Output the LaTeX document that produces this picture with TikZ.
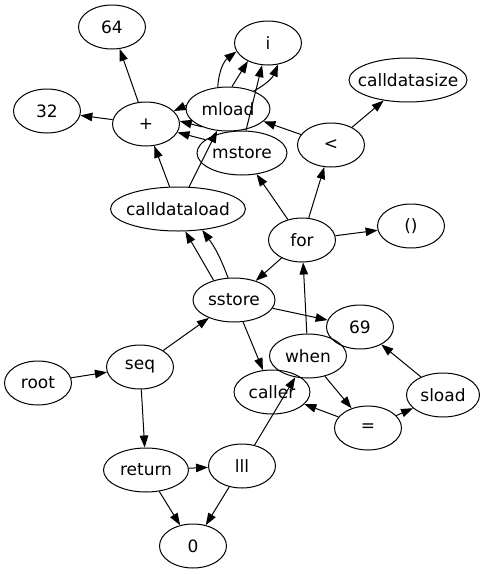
\documentclass[tikz,border=0pt]{standalone}
\usepackage{fontspec}
\setmainfont{DejaVu Sans}
\usetikzlibrary{shapes.geometric, arrows.meta}

\begin{document}
\begin{tikzpicture}[x=1pt, y=-1pt,
        nd/.style={draw, ellipse, line width=1pt, minimum width=67pt, minimum height=44pt,
            inner ysep=0pt, inner xsep=-25pt, font=\fontsize{17}{17}\selectfont},
        ar/.style={line width=1pt, -{Triangle[length=12pt, width=8.5pt]}}]
        \useasboundingbox (0,0) rectangle (486,574);

        % Knoten oben
        \node[nd] (n64) at (112,27) {64};
        \node[nd] (i) at (268,43) {i};
        \node[nd, minimum width=118pt] (csize) at (408,80) {calldatasize};
        \node[nd] (n32) at (47,111) {32};
        \node[nd] (plus) at (146,124) {+};
        \node[nd, minimum width=84pt] (mload) at (228,109) {mload};
        \node[nd, minimum width=90pt] (mstore) at (242,153) {mstore};
        \node[nd] (lt) at (331,145) {<};
        \node[nd, minimum width=135pt] (cload) at (178,209) {calldataload};

        % Knoten mitte
        \node[nd] (for) at (302,240) {for};
        \node[nd] (unit) at (411,226) {()};
        \node[nd, minimum width=82pt] (sstore) at (234,300) {sstore};
        \node[nd] (n69) at (360,327) {69};
        \node[nd] (root) at (38,383) {root};
        \node[nd] (seq) at (140,367) {seq};
        \node[nd, minimum width=77pt] (when) at (308,356) {when};
        \node[nd, minimum width=76pt] (caller) at (272,392) {caller};
        \node[nd, minimum width=73pt] (sload) at (443,395) {sload};
        \node[nd] (eq) at (368,428) {=};

        % Knoten unten
        \node[nd, minimum width=85pt] (ret) at (146,470) {return};
        \node[nd] (lll) at (242,466) {lll};
        \node[nd] (n0) at (193,546) {0};

        % Kanten oben
        \draw[ar] (plus) -- (n64);
        \draw[ar] (plus) -- (n32);
        \draw[ar] (mload.175) -- (plus.25);
        \draw[ar] (mload.215) -- (plus.5);
        \draw[ar] (mstore.160) -- (plus.345);
        \draw[ar] (mload.115) to[bend left=25] (i.195);
        \draw[ar] (mload.80) -- (i.222);
        \draw[ar] (mload.35) to[bend right=20] (i.295);
        \draw[ar] (mstore.80) -- (i.255);
        \draw[ar] (cload) -- (plus);
        \draw[ar] (cload) -- (mload);
        \draw[ar] (lt) -- (mload);
        \draw[ar] (lt) -- (csize);

        % Kanten mitte
        \draw[ar] (for) -- (mstore);
        \draw[ar] (for) -- (lt);
        \draw[ar] (for) -- (unit);
        \draw[ar] (for) -- (sstore);
        \draw[ar] (sstore.136) -- (cload.288);
        \draw[ar] (sstore.105) to[bend right=8] (cload.319);
        \draw[ar] (sstore) -- (n69);
        \draw[ar] (sstore) -- (caller);
        \draw[ar] (root) -- (seq);
        \draw[ar] (seq) -- (sstore);
        \draw[ar] (when) -- (for);
        \draw[ar] (when) -- (eq);
        \draw[ar] (eq) -- (caller);
        \draw[ar] (eq) -- (sload);
        \draw[ar] (sload) -- (n69);

        % Kanten unten
        \draw[ar] (seq) -- (ret);
        \draw[ar] (ret) -- (lll);
        \draw[ar] (ret) -- (n0);
        \draw[ar] (lll) -- (n0);
        \draw[ar] (lll) -- (when);
\end{tikzpicture}
\end{document}
